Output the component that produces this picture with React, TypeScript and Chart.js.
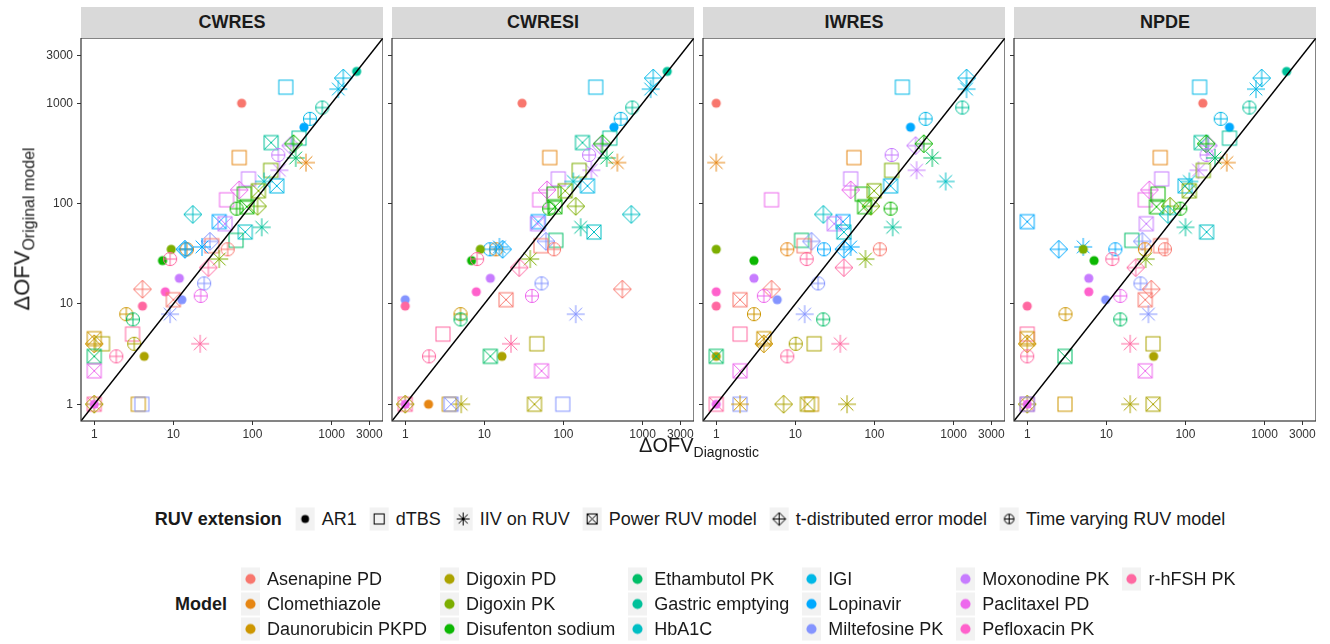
import React, { useEffect, useRef } from 'react';
import { Chart, registerables } from 'chart.js';

Chart.register(...registerables);

// ---------- data ----------
const MODELS = [
  'Asenapine PD', 'Clomethiazole', 'Daunorubicin PKPD', 'Digoxin PD', 'Digoxin PK', 'Disufenton sodium',
  'Ethambutol PK', 'Gastric emptying', 'HbA1C', 'IGI', 'Lopinavir', 'Miltefosine PK',
  'Moxonodine PK', 'Paclitaxel PD', 'Pefloxacin PK', 'r-hFSH PK',
];
const EXTENSIONS = ['AR1', 'dTBS', 'IIV on RUV', 'Power RUV model', 't-distributed error model', 'Time varying RUV model'];
const PANELS = ['CWRES', 'CWRESI', 'IWRES', 'NPDE'];
const TICK_VALUES = [1, 10, 100, 1000, 3000];

const pointModel = [0, 7, 9, 9, 9, 7, 9, 10, 7, 7, 12, 5, 12, 6, 1, 1, 12, 4, 12, 8, 9, 13, 13, 5, 4, 4, 5, 5, 8, 10, 12, 7, 8, 6, 11, 0, 0, 10, 1, 10, 10, 4, 5, 15, 4, 15, 12, 11, 0, 14, 0, 11, 13, 15, 2, 6, 11, 15, 2, 2, 3, 3, 15, 15, 3, 6, 13, 15, 3, 13, 2, 11, 1, 3, 2, 3, 11];
const pointExt = [0, 0, 1, 4, 2, 5, 5, 0, 3, 1, 4, 4, 5, 2, 2, 1, 2, 1, 1, 2, 3, 4, 1, 1, 3, 4, 3, 5, 4, 3, 3, 2, 3, 1, 4, 1, 5, 4, 5, 2, 5, 0, 0, 5, 2, 4, 0, 5, 4, 0, 3, 0, 5, 0, 5, 5, 2, 1, 3, 4, 1, 5, 2, 5, 0, 3, 3, 3, 4, 0, 1, 1, 0, 2, 2, 3, 3];
const origOFV = [1000, 2075, 1446, 1780, 1383, 906, 699, 577, 405, 449, 378, 395, 305, 285, 256, 287, 215, 214, 176, 166, 150, 137, 109, 124, 134, 94, 93, 89, 78, 66, 63, 58, 52, 43, 42, 38, 35, 35, 35, 37, 35, 35, 27, 28, 28, 23, 18, 16, 14, 13.2, 11, 11, 12, 9.5, 7.9, 7, 7.9, 5, 4.5, 4, 4, 4, 4, 3, 3, 3, 2.15, 1, 1, 1, 1, 1, 1, 1, 1, 1, 1];
const diagCWRES = [73, 2075, 264, 1406, 1216, 763, 533, 448, 172, 388, 304, 330, 212, 352, 475, 68, 219, 170, 89, 140, 203, 68, 47, 79, 119, 116, 85, 63, 17.6, 38, 45, 131, 81, 62, 29, 30.6, 48.6, 14, 14.8, 23, 14.3, 9.4, 7.3, 9.1, 38, 27.7, 11.9, 24.5, 4.07, 7.9, 10, 12.8, 22.2, 4.07, 2.54, 3.08, 9.1, 3.05, 1, 1, 1.27, 3.2, 21.8, 1.9, 4.28, 1, 1, 1, 1, 1, 3.6, 4.0, null, null, null, null, null];
const diagCWRESI = [30, 2050, 256, 1364, 1265, 741, 530, 435, 174, 385, 296, 310, 211, 352, 480, 67, 225, 158, 86, 133, 201, 62, 50, 76, 105, 143, 78, 66, 720, 48, 47, 165, 243, 80, 60, 52, 76, 17, 14, 15.5, 11.8, 8.9, 6.9, 8.1, 38, 27.6, 11.9, 52.8, 555, 7.9, 18.8, 1, 40, 1, 5, 5, 143, 3, null, null, 46, null, 21.7, 2, 16.7, 11.9, 52.8, 1, 1, 1, 3.6, 98, 1.97, 5.1, null, 43, 3.8];
const diagIWRES = [1, null, 225, 1460, 1460, 1288, 443, 286, null, null, 331, 420, 165, 538, 1, 55, 341, 165, 50, 795, 160, 50, 5, 70, 99, 90, 75, 160, 22.6, 40, 31, 170, 41, 12, 16, 12.9, 117, 41, 7.9, 50, 23, 1, 3, 13.9, 77, 41, 3, 19.4, 5, 1, 2, 5.9, 4, 1, 3, 22.5, 13.1, 2, 4, 4, 17.3, 10.1, 37, 7.9, 1, 1, 2, 1, 7.1, 1, 16, 2, null, 45, 2, 14.2, null];
const diagNPDE = [166, 1900, 151, 919, 779, 643, 279, 360, 158, 360, 195, 183, 185, 236, 333, 48, 146, 168, 50, 112, 99, 35, 31, 45, 112, 64, 43, 86, 60, 1, 32, 100, 185, 21, 28.5, 48.5, 55, 2.5, 30.7, 5.1, 13, 5.1, 7, 11.9, 31.4, 23.5, 6, 27, 37, 6, 31, 9.8, 15, 1, 3.04, 15, 34, 1, 1, 1, 38.9, null, 20, 1, 39.6, 3, 31, 1, 1, 1, 3, 1, null, 20, null, 39, null];
const DIAG_BY_PANEL = [diagCWRES, diagCWRESI, diagIWRES, diagNPDE];

// ---------- styles ----------
const MODEL_COLORS = [
  '#F8766D', '#E68613', '#CD9600', '#ABA300', '#7CAE00', '#0CB702', '#00BE67', '#00C19A',
  '#00BFC4', '#00B8E7', '#00A9FF', '#8494FF', '#C77CFF', '#ED68ED', '#FF61CC', '#FF68A1',
];
const FONT = '"Liberation Sans", Arial, Helvetica, sans-serif';
const AX_MIN = 0.68;
const AX_MAX = 4470;
const PANEL_LEFTS = [81, 392, 703, 1014];
const PANEL_W = 302;
const PANEL_TOP = 38;
const PANEL_H = 383;

function drawShape(ctx: CanvasRenderingContext2D, ext: number, color: string, cx: number, cy: number, k = 1) {
  ctx.save();
  ctx.strokeStyle = color;
  ctx.fillStyle = color;
  ctx.lineWidth = 1;
  const line = (x1: number, y1: number, x2: number, y2: number) => {
    ctx.beginPath();
    ctx.moveTo(x1, y1);
    ctx.lineTo(x2, y2);
    ctx.stroke();
  };
  if (ext === 0) {
    ctx.beginPath();
    ctx.arc(cx, cy, 4.6 * k, 0, Math.PI * 2);
    ctx.fill();
  } else if (ext === 1) {
    const h = 7 * k;
    ctx.strokeRect(cx - h, cy - h, 2 * h, 2 * h);
  } else if (ext === 2) {
    const r = 9 * k;
    const d = r * Math.SQRT1_2;
    line(cx - r, cy, cx + r, cy);
    line(cx, cy - r, cx, cy + r);
    line(cx - d, cy - d, cx + d, cy + d);
    line(cx - d, cy + d, cx + d, cy - d);
  } else if (ext === 3) {
    const h = 7 * k;
    ctx.strokeRect(cx - h, cy - h, 2 * h, 2 * h);
    line(cx - h, cy - h, cx + h, cy + h);
    line(cx - h, cy + h, cx + h, cy - h);
  } else if (ext === 4) {
    const r = 9 * k;
    ctx.beginPath();
    ctx.moveTo(cx, cy - r);
    ctx.lineTo(cx + r, cy);
    ctx.lineTo(cx, cy + r);
    ctx.lineTo(cx - r, cy);
    ctx.closePath();
    ctx.stroke();
    line(cx - r, cy, cx + r, cy);
    line(cx, cy - r, cx, cy + r);
  } else {
    const r = 6.6 * k;
    ctx.beginPath();
    ctx.arc(cx, cy, r, 0, Math.PI * 2);
    ctx.stroke();
    line(cx - r, cy, cx + r, cy);
    line(cx, cy - r, cx, cy + r);
  }
  ctx.restore();
}

const iconCache = new Map<string, HTMLCanvasElement>();
function getIcon(m: number, e: number): HTMLCanvasElement {
  const key = m + '-' + e;
  let c = iconCache.get(key);
  if (!c) {
    c = document.createElement('canvas');
    c.width = 24;
    c.height = 24;
    const ctx = c.getContext('2d')!;
    drawShape(ctx, e, MODEL_COLORS[m], 12, 12);
    iconCache.set(key, c);
  }
  return c;
}

const borderPlugin = {
  id: 'panelBorder',
  afterDraw(chart: any) {
    const { ctx, chartArea: a } = chart;
    ctx.save();
    ctx.strokeStyle = '#333333';
    ctx.lineWidth = 1.2;
    ctx.strokeRect(a.left, a.top, a.right - a.left, a.bottom - a.top);
    ctx.restore();
  },
};

function zeroPadding(s: any) {
  s.paddingTop = 0;
  s.paddingBottom = 0;
  s.paddingLeft = 0;
  s.paddingRight = 0;
}

function Panel({ index }: { index: number }) {
  const ref = useRef<HTMLCanvasElement>(null);
  const first = index === 0;
  const yAxisW = first ? 50 : 4;
  const xAxisH = 22;
  useEffect(() => {
    const diag = DIAG_BY_PANEL[index];
    const pts: any[] = [];
    pointModel.forEach((m, i) => {
      if (diag[i] != null) pts.push({ x: diag[i], y: origOFV[i], m, e: pointExt[i] });
    });
    const tickFont = { family: FONT, size: 12 };
    const chart = new Chart(ref.current!, {
      type: 'scatter',
      data: {
        datasets: [
          {
            type: 'line',
            data: [{ x: AX_MIN, y: AX_MIN }, { x: AX_MAX, y: AX_MAX }],
            borderColor: '#000000',
            borderWidth: 1.4,
            pointRadius: 0,
            order: 0,
          } as any,
          {
            type: 'scatter',
            data: pts,
            pointStyle: (c: any) => getIcon(c.raw.m, c.raw.e),
            pointRadius: 6,
            order: 1,
          } as any,
        ],
      },
      options: {
        animation: false,
        responsive: false,
        events: [],
        layout: { padding: 0, autoPadding: false },
        plugins: { legend: { display: false }, tooltip: { enabled: false } },
        scales: {
          x: {
            type: 'logarithmic',
            min: AX_MIN,
            max: AX_MAX,
            afterBuildTicks: (s: any) => { s.ticks = TICK_VALUES.map((v) => ({ value: v })); },
            afterFit: (s: any) => { s.height = xAxisH; zeroPadding(s); },
            ticks: { autoSkip: false, maxRotation: 0, padding: 2, color: '#333333', font: tickFont, callback: (v: any) => String(v) },
            grid: { drawOnChartArea: false, drawTicks: true, tickLength: 4, tickColor: '#333333' },
            border: { display: false },
          },
          y: {
            type: 'logarithmic',
            min: AX_MIN,
            max: AX_MAX,
            afterBuildTicks: (s: any) => { s.ticks = TICK_VALUES.map((v) => ({ value: v })); },
            afterFit: (s: any) => { s.width = yAxisW; zeroPadding(s); },
            ticks: { display: first, autoSkip: false, padding: 4, color: '#333333', font: tickFont, callback: (v: any) => String(v) },
            grid: { drawOnChartArea: false, drawTicks: true, tickLength: 4, tickColor: '#333333' },
            border: { display: false },
          },
        },
      } as any,
      plugins: [borderPlugin],
    });
    return () => chart.destroy();
  }, [index]);
  const left = PANEL_LEFTS[index];
  return (
    <>
      <div
        style={{
          position: 'absolute', left, top: 7, width: PANEL_W, height: PANEL_TOP - 7,
          background: '#D9D9D9', color: '#1A1A1A', fontFamily: FONT, fontWeight: 'bold', fontSize: 18,
          display: 'flex', alignItems: 'center', justifyContent: 'center',
        }}
      >
        {PANELS[index]}
      </div>
      <canvas
        ref={ref}
        width={PANEL_W + yAxisW}
        height={PANEL_H + xAxisH}
        style={{ position: 'absolute', left: left - yAxisW, top: PANEL_TOP }}
      />
    </>
  );
}

function KeyIcon({ ext, color, k }: { ext: number; color: string; k: number }) {
  const ref = useRef<HTMLCanvasElement>(null);
  useEffect(() => {
    const c = ref.current!;
    const ctx = c.getContext('2d')!;
    ctx.clearRect(0, 0, c.width, c.height);
    ctx.fillStyle = '#F2F2F2';
    ctx.fillRect(0, 0, c.width, c.height);
    drawShape(ctx, ext, color, c.width / 2, c.height / 2, k);
  }, [ext, color, k]);
  return <canvas ref={ref} width={19} height={23} style={{ display: 'block', flex: 'none' }} />;
}

const textStyle: React.CSSProperties = { fontFamily: FONT, fontSize: 18, color: '#1A1A1A', whiteSpace: 'nowrap', lineHeight: '23px' };

export default function App() {
  const modelCols = [0, 1, 2, 3, 4, 5].map((c) => MODELS.slice(c * 3, c * 3 + 3).map((name, r) => ({ name, i: c * 3 + r })));
  return (
    <div style={{ position: 'fixed', left: 0, top: 0, width: 1330, height: 644, background: '#FFFFFF', overflow: 'hidden' }}>
      {PANELS.map((_, i) => <Panel key={i} index={i} />)}
      <div
        style={{
          position: 'absolute', left: 24, top: 229, transform: 'translate(-50%, -50%) rotate(-90deg)',
          fontFamily: FONT, fontSize: 22, color: '#1A1A1A', whiteSpace: 'nowrap',
        }}
      >
        ΔOFV<sub style={{ fontSize: 16 }}>Original model</sub>
      </div>
      <div
        style={{
          position: 'absolute', left: 699, top: 447, transform: 'translate(-50%, -50%)',
          fontFamily: FONT, fontSize: 20, color: '#1A1A1A', whiteSpace: 'nowrap',
        }}
      >
        ΔOFV<sub style={{ fontSize: 14 }}>Diagnostic</sub>
      </div>

      {/* RUV extension legend */}
      <div style={{ position: 'absolute', left: 690, top: 519, transform: 'translate(-50%, -50%)', display: 'flex', alignItems: 'center' }}>
        <div style={{ ...textStyle, fontWeight: 'bold', marginRight: 14 }}>RUV extension</div>
        {EXTENSIONS.map((name, i) => (
          <div key={name} style={{ display: 'flex', alignItems: 'center', marginRight: i < 5 ? 13 : 0 }}>
            <KeyIcon ext={i} color="#000000" k={i === 0 ? 0.85 : 0.72} />
            <div style={{ ...textStyle, marginLeft: 7 }}>{name}</div>
          </div>
        ))}
      </div>

      {/* Model legend */}
      <div style={{ position: 'absolute', left: 175, top: 604, transform: 'translateY(-50%)', display: 'flex', alignItems: 'center' }}>
        <div style={{ ...textStyle, fontWeight: 'bold', marginRight: 14 }}>Model</div>
        {modelCols.map((col, c) => (
          <div key={c} style={{ display: 'flex', flexDirection: 'column', marginRight: c < 5 ? 13 : 0, alignSelf: 'flex-start' }}>
            {col.map(({ name, i }) => (
              <div key={name} style={{ display: 'flex', alignItems: 'center', height: 25 }}>
                <KeyIcon ext={0} color={MODEL_COLORS[i]} k={1.1} />
                <div style={{ ...textStyle, marginLeft: 7 }}>{name}</div>
              </div>
            ))}
          </div>
        ))}
      </div>
    </div>
  );
}
